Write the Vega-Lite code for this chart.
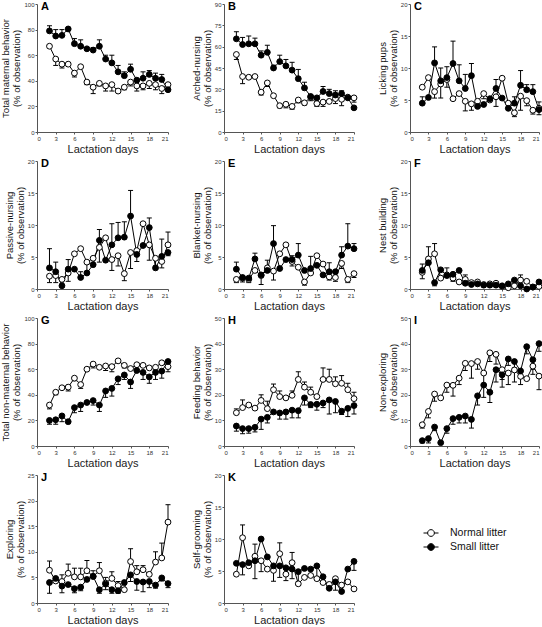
{
"$schema":"https://vega.github.io/schema/vega-lite/v6.json",
"padding":{"left":0,"top":1,"right":2,"bottom":0},
"data":{"values":[
{"p":"A","d":2,"g":"N","m":67,"e":67},{"p":"A","d":3,"g":"N","m":57,"e":52},{"p":"A","d":4,"g":"N","m":53,"e":50},{"p":"A","d":5,"g":"N","m":53,"e":53},{"p":"A","d":6,"g":"N","m":46,"e":43},{"p":"A","d":7,"g":"N","m":51,"e":51},{"p":"A","d":8,"g":"N","m":39,"e":37},{"p":"A","d":9,"g":"N","m":35,"e":30},{"p":"A","d":10,"g":"N","m":38,"e":36},{"p":"A","d":11,"g":"N","m":36,"e":32},{"p":"A","d":12,"g":"N","m":37,"e":32},{"p":"A","d":13,"g":"N","m":32,"e":31},{"p":"A","d":14,"g":"N","m":35,"e":33},{"p":"A","d":15,"g":"N","m":39,"e":36},{"p":"A","d":16,"g":"N","m":36,"e":32},{"p":"A","d":17,"g":"N","m":36,"e":33},{"p":"A","d":18,"g":"N","m":38,"e":34},{"p":"A","d":19,"g":"N","m":37,"e":33},{"p":"A","d":20,"g":"N","m":34,"e":30},{"p":"A","d":21,"g":"N","m":37,"e":35},
{"p":"A","d":2,"g":"S","m":79,"e":83},{"p":"A","d":3,"g":"S","m":75,"e":80},{"p":"A","d":4,"g":"S","m":75.5,"e":80},{"p":"A","d":5,"g":"S","m":80.5,"e":81.5},{"p":"A","d":6,"g":"S","m":69,"e":73},{"p":"A","d":7,"g":"S","m":67,"e":72},{"p":"A","d":8,"g":"S","m":65,"e":65},{"p":"A","d":9,"g":"S","m":64,"e":66},{"p":"A","d":10,"g":"S","m":67,"e":72},{"p":"A","d":11,"g":"S","m":57,"e":60},{"p":"A","d":12,"g":"S","m":54,"e":60},{"p":"A","d":13,"g":"S","m":47,"e":52},{"p":"A","d":14,"g":"S","m":44,"e":47},{"p":"A","d":15,"g":"S","m":49,"e":53},{"p":"A","d":16,"g":"S","m":40.5,"e":40.5},{"p":"A","d":17,"g":"S","m":42,"e":47},{"p":"A","d":18,"g":"S","m":45,"e":48},{"p":"A","d":19,"g":"S","m":42,"e":46},{"p":"A","d":20,"g":"S","m":41,"e":45},{"p":"A","d":21,"g":"S","m":33,"e":33},
{"p":"B","d":2,"g":"N","m":54.5,"e":51},{"p":"B","d":3,"g":"N","m":39,"e":34},{"p":"B","d":4,"g":"N","m":38.5,"e":38.5},{"p":"B","d":5,"g":"N","m":39,"e":39},{"p":"B","d":6,"g":"N","m":28,"e":26},{"p":"B","d":7,"g":"N","m":34.5,"e":32},{"p":"B","d":8,"g":"N","m":25.5,"e":25.5},{"p":"B","d":9,"g":"N","m":18.5,"e":17},{"p":"B","d":10,"g":"N","m":19.5,"e":17},{"p":"B","d":11,"g":"N","m":18,"e":16},{"p":"B","d":12,"g":"N","m":22.5,"e":20.5},{"p":"B","d":13,"g":"N","m":20.5,"e":19},{"p":"B","d":14,"g":"N","m":24.5,"e":22},{"p":"B","d":15,"g":"N","m":20,"e":18},{"p":"B","d":16,"g":"N","m":21,"e":18},{"p":"B","d":17,"g":"N","m":21.5,"e":21.5},{"p":"B","d":18,"g":"N","m":23.5,"e":20},{"p":"B","d":19,"g":"N","m":23,"e":18.5},{"p":"B","d":20,"g":"N","m":24.5,"e":24.5},{"p":"B","d":21,"g":"N","m":24,"e":21},
{"p":"B","d":2,"g":"S","m":65.5,"e":70.5},{"p":"B","d":3,"g":"S","m":61.5,"e":66.5},{"p":"B","d":4,"g":"S","m":62,"e":67.5},{"p":"B","d":5,"g":"S","m":62,"e":66},{"p":"B","d":6,"g":"S","m":54,"e":57},{"p":"B","d":7,"g":"S","m":56,"e":61},{"p":"B","d":8,"g":"S","m":45,"e":47},{"p":"B","d":9,"g":"S","m":49.5,"e":54},{"p":"B","d":10,"g":"S","m":46.5,"e":51},{"p":"B","d":11,"g":"S","m":43.5,"e":49},{"p":"B","d":12,"g":"S","m":37.5,"e":44},{"p":"B","d":13,"g":"S","m":31,"e":35},{"p":"B","d":14,"g":"S","m":25,"e":25},{"p":"B","d":15,"g":"S","m":24,"e":24},{"p":"B","d":16,"g":"S","m":28.5,"e":32},{"p":"B","d":17,"g":"S","m":27,"e":30},{"p":"B","d":18,"g":"S","m":26,"e":29},{"p":"B","d":19,"g":"S","m":27,"e":29},{"p":"B","d":20,"g":"S","m":24,"e":24},{"p":"B","d":21,"g":"S","m":17,"e":17},
{"p":"C","d":2,"g":"N","m":7.0,"e":7.0},{"p":"C","d":3,"g":"N","m":8.5,"e":8.5},{"p":"C","d":4,"g":"N","m":6.3,"e":5.3},{"p":"C","d":5,"g":"N","m":7.5,"e":5.3},{"p":"C","d":6,"g":"N","m":8.2,"e":7.0},{"p":"C","d":7,"g":"N","m":5.2,"e":5.2},{"p":"C","d":8,"g":"N","m":6.0,"e":6.0},{"p":"C","d":9,"g":"N","m":4.8,"e":3.3},{"p":"C","d":10,"g":"N","m":4.4,"e":3.4},{"p":"C","d":11,"g":"N","m":4.8,"e":4.8},{"p":"C","d":12,"g":"N","m":6.0,"e":5.2},{"p":"C","d":13,"g":"N","m":5.0,"e":5.0},{"p":"C","d":14,"g":"N","m":5.5,"e":4.0},{"p":"C","d":15,"g":"N","m":8.4,"e":8.4},{"p":"C","d":16,"g":"N","m":4.5,"e":4.5},{"p":"C","d":17,"g":"N","m":3.0,"e":2.4},{"p":"C","d":18,"g":"N","m":5.6,"e":3.4},{"p":"C","d":19,"g":"N","m":4.9,"e":4.1},{"p":"C","d":20,"g":"N","m":3.4,"e":2.8},{"p":"C","d":21,"g":"N","m":3.7,"e":2.7},
{"p":"C","d":2,"g":"S","m":4.5,"e":5.5},{"p":"C","d":3,"g":"S","m":5.4,"e":5.4},{"p":"C","d":4,"g":"S","m":10.8,"e":13.3},{"p":"C","d":5,"g":"S","m":8.0,"e":10.0},{"p":"C","d":6,"g":"S","m":8.5,"e":10.2},{"p":"C","d":7,"g":"S","m":10.7,"e":14.2},{"p":"C","d":8,"g":"S","m":8.0,"e":10.5},{"p":"C","d":9,"g":"S","m":6.8,"e":9.0},{"p":"C","d":10,"g":"S","m":8.8,"e":10.7},{"p":"C","d":11,"g":"S","m":4.0,"e":4.0},{"p":"C","d":12,"g":"S","m":4.3,"e":4.3},{"p":"C","d":13,"g":"S","m":5.2,"e":5.2},{"p":"C","d":14,"g":"S","m":6.8,"e":8.2},{"p":"C","d":15,"g":"S","m":5.3,"e":5.3},{"p":"C","d":16,"g":"S","m":3.7,"e":3.7},{"p":"C","d":17,"g":"S","m":4.5,"e":5.5},{"p":"C","d":18,"g":"S","m":7.3,"e":9.6},{"p":"C","d":19,"g":"S","m":6.6,"e":7.4},{"p":"C","d":20,"g":"S","m":6.3,"e":7.4},{"p":"C","d":21,"g":"S","m":3.5,"e":4.7},
{"p":"D","d":2,"g":"N","m":2.0,"e":1.0},{"p":"D","d":3,"g":"N","m":2.1,"e":1.0},{"p":"D","d":4,"g":"N","m":1.5,"e":0.8},{"p":"D","d":5,"g":"N","m":2.5,"e":1.2},{"p":"D","d":6,"g":"N","m":5.5,"e":5.5},{"p":"D","d":7,"g":"N","m":6.3,"e":6.3},{"p":"D","d":8,"g":"N","m":4.2,"e":2.5},{"p":"D","d":9,"g":"N","m":4.8,"e":4.8},{"p":"D","d":10,"g":"N","m":6.5,"e":4.2},{"p":"D","d":11,"g":"N","m":8.0,"e":8.0},{"p":"D","d":12,"g":"N","m":4.6,"e":2.9},{"p":"D","d":13,"g":"N","m":5.2,"e":3.6},{"p":"D","d":14,"g":"N","m":2.4,"e":1.3},{"p":"D","d":15,"g":"N","m":5.7,"e":3.2},{"p":"D","d":16,"g":"N","m":6.0,"e":4.3},{"p":"D","d":17,"g":"N","m":10.2,"e":10.2},{"p":"D","d":18,"g":"N","m":6.9,"e":4.5},{"p":"D","d":19,"g":"N","m":4.8,"e":3.6},{"p":"D","d":20,"g":"N","m":4.3,"e":3.3},{"p":"D","d":21,"g":"N","m":6.9,"e":8.9},
{"p":"D","d":2,"g":"S","m":3.3,"e":6.3},{"p":"D","d":3,"g":"S","m":2.7,"e":4.2},{"p":"D","d":4,"g":"S","m":0.5,"e":0.5},{"p":"D","d":5,"g":"S","m":3.1,"e":4.6},{"p":"D","d":6,"g":"S","m":3.1,"e":3.1},{"p":"D","d":7,"g":"S","m":1.8,"e":2.7},{"p":"D","d":8,"g":"S","m":2.5,"e":2.5},{"p":"D","d":9,"g":"S","m":3.8,"e":3.8},{"p":"D","d":10,"g":"S","m":7.6,"e":9.3},{"p":"D","d":11,"g":"S","m":4.5,"e":4.5},{"p":"D","d":12,"g":"S","m":6.9,"e":10.2},{"p":"D","d":13,"g":"S","m":8.0,"e":10.4},{"p":"D","d":14,"g":"S","m":8.1,"e":10.5},{"p":"D","d":15,"g":"S","m":11.4,"e":15.4},{"p":"D","d":16,"g":"S","m":5.4,"e":5.4},{"p":"D","d":17,"g":"S","m":6.8,"e":6.8},{"p":"D","d":18,"g":"S","m":9.6,"e":11.1},{"p":"D","d":19,"g":"S","m":3.3,"e":3.3},{"p":"D","d":20,"g":"S","m":5.1,"e":7.8},{"p":"D","d":21,"g":"S","m":5.7,"e":5.2},
{"p":"E","d":2,"g":"N","m":1.5,"e":1.0},{"p":"E","d":3,"g":"N","m":1.7,"e":1.1},{"p":"E","d":4,"g":"N","m":1.5,"e":1.0},{"p":"E","d":5,"g":"N","m":2.9,"e":2.9},{"p":"E","d":6,"g":"N","m":2.1,"e":0.7},{"p":"E","d":7,"g":"N","m":3.3,"e":3.3},{"p":"E","d":8,"g":"N","m":2.8,"e":1.4},{"p":"E","d":9,"g":"N","m":5.5,"e":5.5},{"p":"E","d":10,"g":"N","m":6.9,"e":6.9},{"p":"E","d":11,"g":"N","m":4.3,"e":3.6},{"p":"E","d":12,"g":"N","m":3.4,"e":3.4},{"p":"E","d":13,"g":"N","m":1.1,"e":0.6},{"p":"E","d":14,"g":"N","m":2.5,"e":2.5},{"p":"E","d":15,"g":"N","m":5.2,"e":5.2},{"p":"E","d":16,"g":"N","m":3.9,"e":3.9},{"p":"E","d":17,"g":"N","m":1.9,"e":1.4},{"p":"E","d":18,"g":"N","m":1.8,"e":1.2},{"p":"E","d":19,"g":"N","m":4.0,"e":3.2},{"p":"E","d":20,"g":"N","m":1.5,"e":1.0},{"p":"E","d":21,"g":"N","m":2.4,"e":1.8},
{"p":"E","d":2,"g":"S","m":3.1,"e":4.2},{"p":"E","d":3,"g":"S","m":1.8,"e":1.8},{"p":"E","d":4,"g":"S","m":1.7,"e":1.7},{"p":"E","d":5,"g":"S","m":4.7,"e":5.6},{"p":"E","d":6,"g":"S","m":2.2,"e":2.2},{"p":"E","d":7,"g":"S","m":2.9,"e":4.5},{"p":"E","d":8,"g":"S","m":7.1,"e":9.9},{"p":"E","d":9,"g":"S","m":3.2,"e":3.2},{"p":"E","d":10,"g":"S","m":4.6,"e":4.6},{"p":"E","d":11,"g":"S","m":4.6,"e":5.2},{"p":"E","d":12,"g":"S","m":5.3,"e":7.1},{"p":"E","d":13,"g":"S","m":2.9,"e":2.9},{"p":"E","d":14,"g":"S","m":3.2,"e":5.1},{"p":"E","d":15,"g":"S","m":3.7,"e":3.7},{"p":"E","d":16,"g":"S","m":2.2,"e":2.2},{"p":"E","d":17,"g":"S","m":2.7,"e":4.1},{"p":"E","d":18,"g":"S","m":2.7,"e":2.7},{"p":"E","d":19,"g":"S","m":5.3,"e":6.6},{"p":"E","d":20,"g":"S","m":6.7,"e":10.2},{"p":"E","d":21,"g":"S","m":6.3,"e":7.1},
{"p":"F","d":2,"g":"N","m":2.6,"e":1.6},{"p":"F","d":3,"g":"N","m":4.7,"e":6.6},{"p":"F","d":4,"g":"N","m":5.5,"e":7.1},{"p":"F","d":5,"g":"N","m":1.7,"e":1.7},{"p":"F","d":6,"g":"N","m":2.2,"e":3.3},{"p":"F","d":7,"g":"N","m":1.7,"e":1.2},{"p":"F","d":8,"g":"N","m":1.1,"e":1.1},{"p":"F","d":9,"g":"N","m":1.5,"e":2.2},{"p":"F","d":10,"g":"N","m":1.0,"e":1.0},{"p":"F","d":11,"g":"N","m":1.1,"e":1.1},{"p":"F","d":12,"g":"N","m":0.7,"e":0.7},{"p":"F","d":13,"g":"N","m":0.8,"e":0.8},{"p":"F","d":14,"g":"N","m":0.9,"e":0.9},{"p":"F","d":15,"g":"N","m":0.4,"e":0.4},{"p":"F","d":16,"g":"N","m":0.2,"e":0.2},{"p":"F","d":17,"g":"N","m":0.5,"e":0.5},{"p":"F","d":18,"g":"N","m":1.4,"e":2.2},{"p":"F","d":19,"g":"N","m":1.2,"e":1.2},{"p":"F","d":20,"g":"N","m":0.3,"e":0.3},{"p":"F","d":21,"g":"N","m":0.4,"e":0.4},
{"p":"F","d":2,"g":"S","m":2.9,"e":3.9},{"p":"F","d":3,"g":"S","m":4.1,"e":4.1},{"p":"F","d":4,"g":"S","m":1.0,"e":0.5},{"p":"F","d":5,"g":"S","m":3.0,"e":3.0},{"p":"F","d":6,"g":"S","m":2.1,"e":2.1},{"p":"F","d":7,"g":"S","m":2.3,"e":2.3},{"p":"F","d":8,"g":"S","m":2.9,"e":2.9},{"p":"F","d":9,"g":"S","m":0.9,"e":0.9},{"p":"F","d":10,"g":"S","m":0.7,"e":0.7},{"p":"F","d":11,"g":"S","m":0.8,"e":0.8},{"p":"F","d":12,"g":"S","m":0.6,"e":0.6},{"p":"F","d":13,"g":"S","m":0.6,"e":0.6},{"p":"F","d":14,"g":"S","m":0.6,"e":0.6},{"p":"F","d":15,"g":"S","m":0.5,"e":0.5},{"p":"F","d":16,"g":"S","m":0.8,"e":0.8},{"p":"F","d":17,"g":"S","m":1.4,"e":1.4},{"p":"F","d":18,"g":"S","m":0.5,"e":0.5},{"p":"F","d":19,"g":"S","m":0.0,"e":0.0},{"p":"F","d":20,"g":"S","m":0.3,"e":0.3},{"p":"F","d":21,"g":"S","m":1.1,"e":1.1},
{"p":"G","d":2,"g":"N","m":32,"e":29},{"p":"G","d":3,"g":"N","m":42,"e":40},{"p":"G","d":4,"g":"N","m":45.5,"e":45.5},{"p":"G","d":5,"g":"N","m":46,"e":43},{"p":"G","d":6,"g":"N","m":53,"e":51},{"p":"G","d":7,"g":"N","m":48,"e":45},{"p":"G","d":8,"g":"N","m":60,"e":60},{"p":"G","d":9,"g":"N","m":64,"e":61},{"p":"G","d":10,"g":"N","m":61.5,"e":61.5},{"p":"G","d":11,"g":"N","m":62.5,"e":59},{"p":"G","d":12,"g":"N","m":62,"e":58},{"p":"G","d":13,"g":"N","m":66.5,"e":66.5},{"p":"G","d":14,"g":"N","m":63,"e":61},{"p":"G","d":15,"g":"N","m":60.5,"e":60.5},{"p":"G","d":16,"g":"N","m":63.5,"e":63.5},{"p":"G","d":17,"g":"N","m":63,"e":63},{"p":"G","d":18,"g":"N","m":61,"e":61},{"p":"G","d":19,"g":"N","m":61.5,"e":61.5},{"p":"G","d":20,"g":"N","m":65,"e":65},{"p":"G","d":21,"g":"N","m":62,"e":58},
{"p":"G","d":2,"g":"S","m":20,"e":17},{"p":"G","d":3,"g":"S","m":20.5,"e":17},{"p":"G","d":4,"g":"S","m":23.5,"e":19},{"p":"G","d":5,"g":"S","m":19,"e":19},{"p":"G","d":6,"g":"S","m":30,"e":26},{"p":"G","d":7,"g":"S","m":32,"e":27},{"p":"G","d":8,"g":"S","m":34,"e":34},{"p":"G","d":9,"g":"S","m":35.5,"e":32},{"p":"G","d":10,"g":"S","m":32,"e":27},{"p":"G","d":11,"g":"S","m":43,"e":38},{"p":"G","d":12,"g":"S","m":45,"e":39},{"p":"G","d":13,"g":"S","m":52.5,"e":48},{"p":"G","d":14,"g":"S","m":55.5,"e":52},{"p":"G","d":15,"g":"S","m":50,"e":45},{"p":"G","d":16,"g":"S","m":59,"e":59},{"p":"G","d":17,"g":"S","m":57.5,"e":52},{"p":"G","d":18,"g":"S","m":54,"e":49},{"p":"G","d":19,"g":"S","m":57.5,"e":52},{"p":"G","d":20,"g":"S","m":58.5,"e":53},{"p":"G","d":21,"g":"S","m":66,"e":66},
{"p":"H","d":2,"g":"N","m":13,"e":14.5},{"p":"H","d":3,"g":"N","m":15,"e":18},{"p":"H","d":4,"g":"N","m":16,"e":16},{"p":"H","d":5,"g":"N","m":14.8,"e":14.8},{"p":"H","d":6,"g":"N","m":17.8,"e":20},{"p":"H","d":7,"g":"N","m":14.6,"e":17.5},{"p":"H","d":8,"g":"N","m":22,"e":24.2},{"p":"H","d":9,"g":"N","m":19.3,"e":21.5},{"p":"H","d":10,"g":"N","m":18.8,"e":18.8},{"p":"H","d":11,"g":"N","m":19.8,"e":21.5},{"p":"H","d":12,"g":"N","m":26,"e":29},{"p":"H","d":13,"g":"N","m":23,"e":25},{"p":"H","d":14,"g":"N","m":21,"e":23},{"p":"H","d":15,"g":"N","m":19.3,"e":19.3},{"p":"H","d":16,"g":"N","m":26,"e":30.5},{"p":"H","d":17,"g":"N","m":26,"e":30},{"p":"H","d":18,"g":"N","m":24.3,"e":27},{"p":"H","d":19,"g":"N","m":24.5,"e":27.5},{"p":"H","d":20,"g":"N","m":22,"e":24.5},{"p":"H","d":21,"g":"N","m":18.5,"e":21},
{"p":"H","d":2,"g":"S","m":7.8,"e":5.8},{"p":"H","d":3,"g":"S","m":6.8,"e":4.8},{"p":"H","d":4,"g":"S","m":6.8,"e":5},{"p":"H","d":5,"g":"S","m":7.3,"e":5.5},{"p":"H","d":6,"g":"S","m":10.5,"e":6.5},{"p":"H","d":7,"g":"S","m":11.2,"e":9},{"p":"H","d":8,"g":"S","m":13.3,"e":13.3},{"p":"H","d":9,"g":"S","m":12.9,"e":10.5},{"p":"H","d":10,"g":"S","m":13.3,"e":10.5},{"p":"H","d":11,"g":"S","m":14,"e":11},{"p":"H","d":12,"g":"S","m":13.8,"e":11},{"p":"H","d":13,"g":"S","m":18.8,"e":16},{"p":"H","d":14,"g":"S","m":16.2,"e":15},{"p":"H","d":15,"g":"S","m":16.3,"e":14},{"p":"H","d":16,"g":"S","m":16.8,"e":15},{"p":"H","d":17,"g":"S","m":18,"e":12.5},{"p":"H","d":18,"g":"S","m":17.4,"e":13},{"p":"H","d":19,"g":"S","m":13.6,"e":12.3},{"p":"H","d":20,"g":"S","m":14.7,"e":11.5},{"p":"H","d":21,"g":"S","m":15.8,"e":12.5},
{"p":"I","d":2,"g":"N","m":8.3,"e":7},{"p":"I","d":3,"g":"N","m":13.5,"e":11},{"p":"I","d":4,"g":"N","m":20.3,"e":17.5},{"p":"I","d":5,"g":"N","m":18.8,"e":18.8},{"p":"I","d":6,"g":"N","m":23.8,"e":21},{"p":"I","d":7,"g":"N","m":23.7,"e":19.5},{"p":"I","d":8,"g":"N","m":26.5,"e":24},{"p":"I","d":9,"g":"N","m":32.3,"e":29.5},{"p":"I","d":10,"g":"N","m":32.2,"e":26.5},{"p":"I","d":11,"g":"N","m":33,"e":30},{"p":"I","d":12,"g":"N","m":28.5,"e":24},{"p":"I","d":13,"g":"N","m":36.4,"e":33},{"p":"I","d":14,"g":"N","m":35.8,"e":32},{"p":"I","d":15,"g":"N","m":29.8,"e":26},{"p":"I","d":16,"g":"N","m":28.5,"e":24},{"p":"I","d":17,"g":"N","m":29.7,"e":25},{"p":"I","d":18,"g":"N","m":27.2,"e":24},{"p":"I","d":19,"g":"N","m":26.3,"e":26.3},{"p":"I","d":20,"g":"N","m":31.2,"e":28},{"p":"I","d":21,"g":"N","m":27.3,"e":22},
{"p":"I","d":2,"g":"S","m":2.1,"e":1.2},{"p":"I","d":3,"g":"S","m":2.9,"e":1.2},{"p":"I","d":4,"g":"S","m":7.4,"e":6},{"p":"I","d":5,"g":"S","m":1.3,"e":1.3},{"p":"I","d":6,"g":"S","m":6.8,"e":5},{"p":"I","d":7,"g":"S","m":10.7,"e":8.5},{"p":"I","d":8,"g":"S","m":11.2,"e":9},{"p":"I","d":9,"g":"S","m":11.7,"e":9},{"p":"I","d":10,"g":"S","m":10.4,"e":7},{"p":"I","d":11,"g":"S","m":19.6,"e":16},{"p":"I","d":12,"g":"S","m":23.8,"e":19},{"p":"I","d":13,"g":"S","m":21,"e":17},{"p":"I","d":14,"g":"S","m":29.8,"e":25},{"p":"I","d":15,"g":"S","m":27.8,"e":23},{"p":"I","d":16,"g":"S","m":34,"e":31.5},{"p":"I","d":17,"g":"S","m":33,"e":30.5},{"p":"I","d":18,"g":"S","m":29.3,"e":26.5},{"p":"I","d":19,"g":"S","m":38.8,"e":36},{"p":"I","d":20,"g":"S","m":33.7,"e":30},{"p":"I","d":21,"g":"S","m":40,"e":37},
{"p":"J","d":2,"g":"N","m":6.4,"e":8.2},{"p":"J","d":3,"g":"N","m":4.3,"e":4.3},{"p":"J","d":4,"g":"N","m":4.2,"e":5.5},{"p":"J","d":5,"g":"N","m":5.8,"e":7.6},{"p":"J","d":6,"g":"N","m":5.1,"e":6.8},{"p":"J","d":7,"g":"N","m":5.1,"e":6.8},{"p":"J","d":8,"g":"N","m":6.3,"e":8.3},{"p":"J","d":9,"g":"N","m":5.2,"e":6.3},{"p":"J","d":10,"g":"N","m":6.3,"e":7.9},{"p":"J","d":11,"g":"N","m":3.9,"e":5.0},{"p":"J","d":12,"g":"N","m":4.8,"e":6.1},{"p":"J","d":13,"g":"N","m":3.4,"e":4.2},{"p":"J","d":14,"g":"N","m":2.6,"e":2.6},{"p":"J","d":15,"g":"N","m":8.1,"e":10.6},{"p":"J","d":16,"g":"N","m":6.1,"e":7.3},{"p":"J","d":17,"g":"N","m":6.5,"e":7.3},{"p":"J","d":18,"g":"N","m":5.6,"e":5.6},{"p":"J","d":19,"g":"N","m":8.0,"e":10.0},{"p":"J","d":20,"g":"N","m":8.8,"e":11.7},{"p":"J","d":21,"g":"N","m":15.8,"e":19.2},
{"p":"J","d":2,"g":"S","m":4.0,"e":1.9},{"p":"J","d":3,"g":"S","m":4.8,"e":4.8},{"p":"J","d":4,"g":"S","m":3.3,"e":2.0},{"p":"J","d":5,"g":"S","m":3.6,"e":3.6},{"p":"J","d":6,"g":"S","m":2.8,"e":2.0},{"p":"J","d":7,"g":"S","m":3.1,"e":2.4},{"p":"J","d":8,"g":"S","m":4.6,"e":4.6},{"p":"J","d":9,"g":"S","m":5.2,"e":5.2},{"p":"J","d":10,"g":"S","m":2.6,"e":1.9},{"p":"J","d":11,"g":"S","m":3.7,"e":2.6},{"p":"J","d":12,"g":"S","m":2.6,"e":1.9},{"p":"J","d":13,"g":"S","m":2.4,"e":1.9},{"p":"J","d":14,"g":"S","m":4.0,"e":3.6},{"p":"J","d":15,"g":"S","m":5.5,"e":4.2},{"p":"J","d":16,"g":"S","m":4.2,"e":2.5},{"p":"J","d":17,"g":"S","m":4.1,"e":2.2},{"p":"J","d":18,"g":"S","m":4.2,"e":3.0},{"p":"J","d":19,"g":"S","m":3.5,"e":2.9},{"p":"J","d":20,"g":"S","m":4.9,"e":4.3},{"p":"J","d":21,"g":"S","m":3.8,"e":3.0},
{"p":"K","d":2,"g":"N","m":4.5,"e":4.5},{"p":"K","d":3,"g":"N","m":10.2,"e":12.2},{"p":"K","d":4,"g":"N","m":5.8,"e":5.8},{"p":"K","d":5,"g":"N","m":7.3,"e":9.2},{"p":"K","d":6,"g":"N","m":6.6,"e":4.9},{"p":"K","d":7,"g":"N","m":5.3,"e":5.3},{"p":"K","d":8,"g":"N","m":5.1,"e":3.4},{"p":"K","d":9,"g":"N","m":7.7,"e":9.4},{"p":"K","d":10,"g":"N","m":4.5,"e":3.5},{"p":"K","d":11,"g":"N","m":6.3,"e":7.9},{"p":"K","d":12,"g":"N","m":3.0,"e":3.0},{"p":"K","d":13,"g":"N","m":4.0,"e":4.0},{"p":"K","d":14,"g":"N","m":4.3,"e":4.3},{"p":"K","d":15,"g":"N","m":3.8,"e":3.8},{"p":"K","d":16,"g":"N","m":3.2,"e":3.2},{"p":"K","d":17,"g":"N","m":2.9,"e":2.9},{"p":"K","d":18,"g":"N","m":3.8,"e":3.8},{"p":"K","d":19,"g":"N","m":2.8,"e":2.8},{"p":"K","d":20,"g":"N","m":3.3,"e":3.3},{"p":"K","d":21,"g":"N","m":2.2,"e":2.2},
{"p":"K","d":2,"g":"S","m":6.2,"e":6.2},{"p":"K","d":3,"g":"S","m":6.0,"e":4.4},{"p":"K","d":4,"g":"S","m":6.3,"e":6.3},{"p":"K","d":5,"g":"S","m":6.6,"e":3.8},{"p":"K","d":6,"g":"S","m":10.0,"e":10.0},{"p":"K","d":7,"g":"S","m":7.2,"e":7.2},{"p":"K","d":8,"g":"S","m":5.8,"e":5.8},{"p":"K","d":9,"g":"S","m":5.8,"e":4.0},{"p":"K","d":10,"g":"S","m":5.5,"e":5.5},{"p":"K","d":11,"g":"S","m":5.3,"e":3.8},{"p":"K","d":12,"g":"S","m":4.9,"e":3.3},{"p":"K","d":13,"g":"S","m":5.4,"e":5.4},{"p":"K","d":14,"g":"S","m":5.3,"e":5.3},{"p":"K","d":15,"g":"S","m":5.8,"e":4.0},{"p":"K","d":16,"g":"S","m":4.1,"e":4.1},{"p":"K","d":17,"g":"S","m":2.3,"e":2.3},{"p":"K","d":18,"g":"S","m":3.3,"e":2.0},{"p":"K","d":19,"g":"S","m":1.8,"e":1.8},{"p":"K","d":20,"g":"S","m":5.3,"e":5.3},{"p":"K","d":21,"g":"S","m":6.5,"e":5.1}
]},
"config":{
"font":"Liberation Sans",
"view":{"stroke":null},
"axis":{"grid":false,"domainColor":"#555","tickColor":"#555","labelColor":"#333","labelFontSize":6,"labelFont":"Liberation Sans","titleFont":"Liberation Sans","titleFontWeight":"normal","titleColor":"#111","tickSize":2,"labelPadding":1,"domainWidth":1,"tickWidth":1},
"axisX":{"titleFontSize":11,"titlePadding":2,"titleFontWeight":"normal","titleColor":"#222"},
"axisY":{"titleFontSize":9.5,"titleLineHeight":11,"titlePadding":2,"titleFontWeight":"normal"},
"title":{"anchor":"start","frame":"group","fontSize":11,"fontWeight":"bold","color":"black","font":"Liberation Sans"},
"legend":{"orient":"none","legendX":386,"legendY":521,"symbolType":"M-1,0H-0.45M0.45,0H1M-0.45,0A0.45,0.45 0 1,1 0.45,0A0.45,0.45 0 1,1 -0.45,0Z","symbolSize":225,"symbolStrokeColor":"black","symbolStrokeWidth":1,"labelFontSize":10.5,"labelFont":"Liberation Sans","labelColor":"#111","labelOffset":11,"rowPadding":0}
},
"columns":3,"spacing":{"row":29,"column":56},"bounds":"flush",
"concat":[
{"width":131,"height":128,"title":{"text":"A","baseline":"top","offset":-4,"dx":4,"dy":7},"transform":[{"filter":"datum.p=='A'"}],"encoding":{"x":{"field":"d","type":"quantitative","scale":{"domain":[0,21]},"axis":{"values":[0,3,6,9,12,15,18,21],"title":"Lactation days"}},"y":{"field":"m","type":"quantitative","scale":{"domain":[0,100],"nice":false},"axis":{"values":[0,20,40,60,80,100],"title":["Total maternal behavior","(% of observation)"]}}},"layer":[
{"mark":{"type":"line","color":"black","strokeWidth":1},"encoding":{"detail":{"field":"g"}}},
{"mark":{"type":"rule","color":"black","strokeWidth":1},"encoding":{"y2":{"field":"e"}}},
{"mark":{"type":"tick","color":"black","thickness":1,"size":5,"orient":"horizontal","opacity":1},"encoding":{"y":{"field":"e","type":"quantitative"}}},
{"mark":{"type":"point","shape":"circle","filled":true,"size":34,"stroke":"black","strokeWidth":1,"opacity":1},"encoding":{"fill":{"field":"g","type":"nominal","scale":{"domain":["N","S"],"range":["white","black"]},"legend":{"title":null,"labelExpr":"datum.value=='N'?'Normal litter':'Small litter'"}}}}]},
{"width":130,"height":128,"title":{"text":"B","baseline":"top","offset":-4,"dx":4,"dy":7},"transform":[{"filter":"datum.p=='B'"}],"encoding":{"x":{"field":"d","type":"quantitative","scale":{"domain":[0,21]},"axis":{"values":[0,3,6,9,12,15,18,21],"title":"Lactation days"}},"y":{"field":"m","type":"quantitative","scale":{"domain":[0,90],"nice":false},"axis":{"values":[0,15,30,45,60,75,90],"title":["Arched-nursing","(% of observation)"]}}},"layer":[
{"mark":{"type":"line","color":"black","strokeWidth":1},"encoding":{"detail":{"field":"g"}}},
{"mark":{"type":"rule","color":"black","strokeWidth":1},"encoding":{"y2":{"field":"e"}}},
{"mark":{"type":"tick","color":"black","thickness":1,"size":5,"orient":"horizontal","opacity":1},"encoding":{"y":{"field":"e","type":"quantitative"}}},
{"mark":{"type":"point","shape":"circle","filled":true,"size":34,"stroke":"black","strokeWidth":1,"opacity":1},"encoding":{"fill":{"field":"g","type":"nominal","scale":{"domain":["N","S"],"range":["white","black"]},"legend":{"title":null,"labelExpr":"datum.value=='N'?'Normal litter':'Small litter'"}}}}]},
{"width":129,"height":128,"title":{"text":"C","baseline":"top","offset":-4,"dx":4,"dy":7},"transform":[{"filter":"datum.p=='C'"}],"encoding":{"x":{"field":"d","type":"quantitative","scale":{"domain":[0,21]},"axis":{"values":[0,3,6,9,12,15,18,21],"title":"Lactation days"}},"y":{"field":"m","type":"quantitative","scale":{"domain":[0,20],"nice":false},"axis":{"values":[0,5,10,15,20],"title":["Licking pups","(% of observation)"]}}},"layer":[
{"mark":{"type":"line","color":"black","strokeWidth":1},"encoding":{"detail":{"field":"g"}}},
{"mark":{"type":"rule","color":"black","strokeWidth":1},"encoding":{"y2":{"field":"e"}}},
{"mark":{"type":"tick","color":"black","thickness":1,"size":5,"orient":"horizontal","opacity":1},"encoding":{"y":{"field":"e","type":"quantitative"}}},
{"mark":{"type":"point","shape":"circle","filled":true,"size":34,"stroke":"black","strokeWidth":1,"opacity":1},"encoding":{"fill":{"field":"g","type":"nominal","scale":{"domain":["N","S"],"range":["white","black"]},"legend":{"title":null,"labelExpr":"datum.value=='N'?'Normal litter':'Small litter'"}}}}]},
{"width":131,"height":128,"title":{"text":"D","baseline":"top","offset":-4,"dx":4,"dy":7},"transform":[{"filter":"datum.p=='D'"}],"encoding":{"x":{"field":"d","type":"quantitative","scale":{"domain":[0,21]},"axis":{"values":[0,3,6,9,12,15,18,21],"title":"Lactation days"}},"y":{"field":"m","type":"quantitative","scale":{"domain":[0,20],"nice":false},"axis":{"values":[0,5,10,15,20],"title":["Passive-nursing","(% of observation)"]}}},"layer":[
{"mark":{"type":"line","color":"black","strokeWidth":1},"encoding":{"detail":{"field":"g"}}},
{"mark":{"type":"rule","color":"black","strokeWidth":1},"encoding":{"y2":{"field":"e"}}},
{"mark":{"type":"tick","color":"black","thickness":1,"size":5,"orient":"horizontal","opacity":1},"encoding":{"y":{"field":"e","type":"quantitative"}}},
{"mark":{"type":"point","shape":"circle","filled":true,"size":34,"stroke":"black","strokeWidth":1,"opacity":1},"encoding":{"fill":{"field":"g","type":"nominal","scale":{"domain":["N","S"],"range":["white","black"]},"legend":{"title":null,"labelExpr":"datum.value=='N'?'Normal litter':'Small litter'"}}}}]},
{"width":130,"height":128,"title":{"text":"E","baseline":"top","offset":-4,"dx":4,"dy":7},"transform":[{"filter":"datum.p=='E'"}],"encoding":{"x":{"field":"d","type":"quantitative","scale":{"domain":[0,21]},"axis":{"values":[0,3,6,9,12,15,18,21],"title":"Lactation days"}},"y":{"field":"m","type":"quantitative","scale":{"domain":[0,20],"nice":false},"axis":{"values":[0,5,10,15,20],"title":["Blanket-nursing","(% of observation)"]}}},"layer":[
{"mark":{"type":"line","color":"black","strokeWidth":1},"encoding":{"detail":{"field":"g"}}},
{"mark":{"type":"rule","color":"black","strokeWidth":1},"encoding":{"y2":{"field":"e"}}},
{"mark":{"type":"tick","color":"black","thickness":1,"size":5,"orient":"horizontal","opacity":1},"encoding":{"y":{"field":"e","type":"quantitative"}}},
{"mark":{"type":"point","shape":"circle","filled":true,"size":34,"stroke":"black","strokeWidth":1,"opacity":1},"encoding":{"fill":{"field":"g","type":"nominal","scale":{"domain":["N","S"],"range":["white","black"]},"legend":{"title":null,"labelExpr":"datum.value=='N'?'Normal litter':'Small litter'"}}}}]},
{"width":129,"height":128,"title":{"text":"F","baseline":"top","offset":-4,"dx":4,"dy":7},"transform":[{"filter":"datum.p=='F'"}],"encoding":{"x":{"field":"d","type":"quantitative","scale":{"domain":[0,21]},"axis":{"values":[0,3,6,9,12,15,18,21],"title":"Lactation days"}},"y":{"field":"m","type":"quantitative","scale":{"domain":[0,20],"nice":false},"axis":{"values":[0,5,10,15,20],"title":["Nest building","(% of observation)"]}}},"layer":[
{"mark":{"type":"line","color":"black","strokeWidth":1},"encoding":{"detail":{"field":"g"}}},
{"mark":{"type":"rule","color":"black","strokeWidth":1},"encoding":{"y2":{"field":"e"}}},
{"mark":{"type":"tick","color":"black","thickness":1,"size":5,"orient":"horizontal","opacity":1},"encoding":{"y":{"field":"e","type":"quantitative"}}},
{"mark":{"type":"point","shape":"circle","filled":true,"size":34,"stroke":"black","strokeWidth":1,"opacity":1},"encoding":{"fill":{"field":"g","type":"nominal","scale":{"domain":["N","S"],"range":["white","black"]},"legend":{"title":null,"labelExpr":"datum.value=='N'?'Normal litter':'Small litter'"}}}}]},
{"width":131,"height":128,"title":{"text":"G","baseline":"top","offset":-4,"dx":4,"dy":7},"transform":[{"filter":"datum.p=='G'"}],"encoding":{"x":{"field":"d","type":"quantitative","scale":{"domain":[0,21]},"axis":{"values":[0,3,6,9,12,15,18,21],"title":"Lactation days"}},"y":{"field":"m","type":"quantitative","scale":{"domain":[0,100],"nice":false},"axis":{"values":[0,20,40,60,80,100],"title":["Total non-maternal behavior","(% of observation)"]}}},"layer":[
{"mark":{"type":"line","color":"black","strokeWidth":1},"encoding":{"detail":{"field":"g"}}},
{"mark":{"type":"rule","color":"black","strokeWidth":1},"encoding":{"y2":{"field":"e"}}},
{"mark":{"type":"tick","color":"black","thickness":1,"size":5,"orient":"horizontal","opacity":1},"encoding":{"y":{"field":"e","type":"quantitative"}}},
{"mark":{"type":"point","shape":"circle","filled":true,"size":34,"stroke":"black","strokeWidth":1,"opacity":1},"encoding":{"fill":{"field":"g","type":"nominal","scale":{"domain":["N","S"],"range":["white","black"]},"legend":{"title":null,"labelExpr":"datum.value=='N'?'Normal litter':'Small litter'"}}}}]},
{"width":130,"height":128,"title":{"text":"H","baseline":"top","offset":-4,"dx":4,"dy":7},"transform":[{"filter":"datum.p=='H'"}],"encoding":{"x":{"field":"d","type":"quantitative","scale":{"domain":[0,21]},"axis":{"values":[0,3,6,9,12,15,18,21],"title":"Lactation days"}},"y":{"field":"m","type":"quantitative","scale":{"domain":[0,50],"nice":false},"axis":{"values":[0,10,20,30,40,50],"title":["Feeding behavior","(% of observation)"]}}},"layer":[
{"mark":{"type":"line","color":"black","strokeWidth":1},"encoding":{"detail":{"field":"g"}}},
{"mark":{"type":"rule","color":"black","strokeWidth":1},"encoding":{"y2":{"field":"e"}}},
{"mark":{"type":"tick","color":"black","thickness":1,"size":5,"orient":"horizontal","opacity":1},"encoding":{"y":{"field":"e","type":"quantitative"}}},
{"mark":{"type":"point","shape":"circle","filled":true,"size":34,"stroke":"black","strokeWidth":1,"opacity":1},"encoding":{"fill":{"field":"g","type":"nominal","scale":{"domain":["N","S"],"range":["white","black"]},"legend":{"title":null,"labelExpr":"datum.value=='N'?'Normal litter':'Small litter'"}}}}]},
{"width":129,"height":128,"title":{"text":"I","baseline":"top","offset":-4,"dx":4,"dy":7},"transform":[{"filter":"datum.p=='I'"}],"encoding":{"x":{"field":"d","type":"quantitative","scale":{"domain":[0,21]},"axis":{"values":[0,3,6,9,12,15,18,21],"title":"Lactation days"}},"y":{"field":"m","type":"quantitative","scale":{"domain":[0,50],"nice":false},"axis":{"values":[0,10,20,30,40,50],"title":["Non-exploring","(% of observation)"]}}},"layer":[
{"mark":{"type":"line","color":"black","strokeWidth":1},"encoding":{"detail":{"field":"g"}}},
{"mark":{"type":"rule","color":"black","strokeWidth":1},"encoding":{"y2":{"field":"e"}}},
{"mark":{"type":"tick","color":"black","thickness":1,"size":5,"orient":"horizontal","opacity":1},"encoding":{"y":{"field":"e","type":"quantitative"}}},
{"mark":{"type":"point","shape":"circle","filled":true,"size":34,"stroke":"black","strokeWidth":1,"opacity":1},"encoding":{"fill":{"field":"g","type":"nominal","scale":{"domain":["N","S"],"range":["white","black"]},"legend":{"title":null,"labelExpr":"datum.value=='N'?'Normal litter':'Small litter'"}}}}]},
{"width":131,"height":128,"title":{"text":"J","baseline":"top","offset":-4,"dx":4,"dy":7},"transform":[{"filter":"datum.p=='J'"}],"encoding":{"x":{"field":"d","type":"quantitative","scale":{"domain":[0,21]},"axis":{"values":[0,3,6,9,12,15,18,21],"title":"Lactation days"}},"y":{"field":"m","type":"quantitative","scale":{"domain":[0,25],"nice":false},"axis":{"values":[0,5,10,15,20,25],"title":["Exploring","(% of observation)"]}}},"layer":[
{"mark":{"type":"line","color":"black","strokeWidth":1},"encoding":{"detail":{"field":"g"}}},
{"mark":{"type":"rule","color":"black","strokeWidth":1},"encoding":{"y2":{"field":"e"}}},
{"mark":{"type":"tick","color":"black","thickness":1,"size":5,"orient":"horizontal","opacity":1},"encoding":{"y":{"field":"e","type":"quantitative"}}},
{"mark":{"type":"point","shape":"circle","filled":true,"size":34,"stroke":"black","strokeWidth":1,"opacity":1},"encoding":{"fill":{"field":"g","type":"nominal","scale":{"domain":["N","S"],"range":["white","black"]},"legend":{"title":null,"labelExpr":"datum.value=='N'?'Normal litter':'Small litter'"}}}}]},
{"width":130,"height":128,"title":{"text":"K","baseline":"top","offset":-4,"dx":4,"dy":7},"transform":[{"filter":"datum.p=='K'"}],"encoding":{"x":{"field":"d","type":"quantitative","scale":{"domain":[0,21]},"axis":{"values":[0,3,6,9,12,15,18,21],"title":"Lactation days"}},"y":{"field":"m","type":"quantitative","scale":{"domain":[0,20],"nice":false},"axis":{"values":[0,5,10,15,20],"title":["Self-grooming","(% of observation)"]}}},"layer":[
{"mark":{"type":"line","color":"black","strokeWidth":1},"encoding":{"detail":{"field":"g"}}},
{"mark":{"type":"rule","color":"black","strokeWidth":1},"encoding":{"y2":{"field":"e"}}},
{"mark":{"type":"tick","color":"black","thickness":1,"size":5,"orient":"horizontal","opacity":1},"encoding":{"y":{"field":"e","type":"quantitative"}}},
{"mark":{"type":"point","shape":"circle","filled":true,"size":34,"stroke":"black","strokeWidth":1,"opacity":1},"encoding":{"fill":{"field":"g","type":"nominal","scale":{"domain":["N","S"],"range":["white","black"]},"legend":{"title":null,"labelExpr":"datum.value=='N'?'Normal litter':'Small litter'"}}}}]}
]
}
